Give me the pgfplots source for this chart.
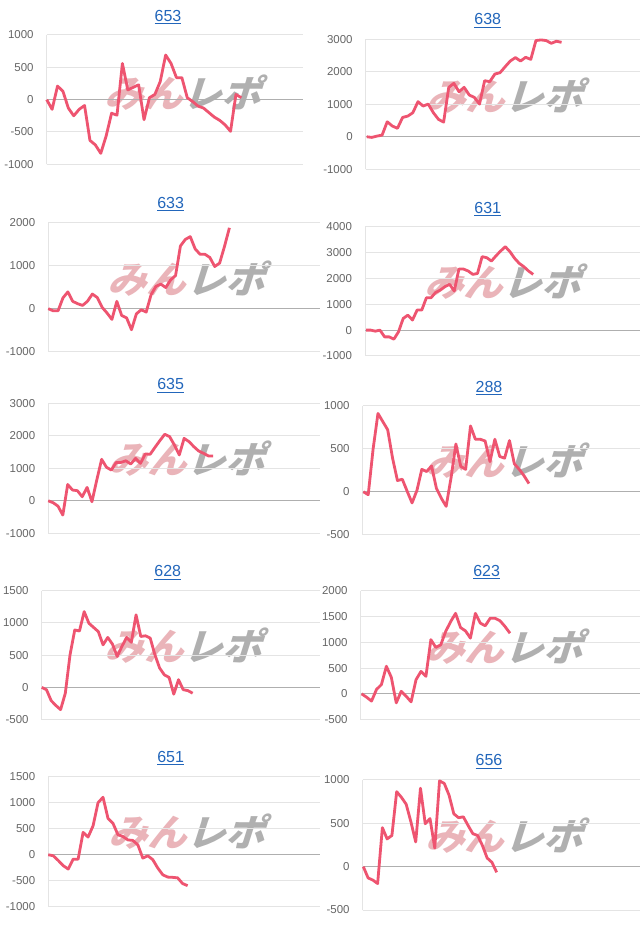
\documentclass[border=0pt]{standalone}
\usepackage{fontspec}
\setmainfont{Liberation Sans}
\newfontfamily\wmfont[FakeSlant=0.3]{Noto Sans CJK JP}
\usepackage{pgfplots}
\pgfplotsset{compat=1.18}
\definecolor{linered}{RGB}{238,84,112}
\definecolor{titleblue}{RGB}{34,102,187}
\definecolor{tickgray}{RGB}{102,102,102}
\definecolor{gridgray}{RGB}{228,228,228}
\definecolor{zerogray}{RGB}{175,175,175}
\definecolor{wmpink}{RGB}{234,180,185}
\definecolor{wmgray}{RGB}{176,176,176}
\pgfplotsset{
  panel/.style={
    scale only axis,
    anchor=south west,
    axis x line=none,
    axis y line=left,
    y axis line style={draw=gridgray,line width=0.75pt,-},
    ymajorgrids,
    grid style={draw=gridgray,line width=0.75pt},
    ytick style={draw=none},
    xtick=\empty,
    yticklabel style={font=\fontsize{8.6}{10}\selectfont,text=tickgray,inner sep=0pt,xshift=-7.5pt},
    /pgf/number format/assume math mode=true,
    /pgf/number format/1000 sep={},
    extra y ticks={0},
    extra y tick labels={},
    extra y tick style={grid style={draw=zerogray,line width=0.75pt}},
    clip=false,
  },
  pline/.style={draw=linered,line width=2.1pt,line join=round,mark=none},
}
\newcommand{\wm}[2]{\node[font=\wmfont\bfseries\fontsize{28}{30}\selectfont,inner sep=0pt,xscale=1.05] at (#1,#2) {\textcolor{wmpink}{みん}\textcolor{wmgray}{レポ}};}
\newcommand{\ttl}[3]{\node[font=\fontsize{12}{14}\selectfont,text=titleblue,inner sep=0pt] at (#1,#2) {\underline{#3}};}
\begin{document}
\begin{tikzpicture}
\path[fill=white] (0pt,0pt) rectangle (480pt,698.25pt);
% watermarks
\wm{137pt}{628.5pt}
\wm{378.5pt}{626.25pt}
\wm{139.5pt}{489pt}
\wm{377pt}{486.75pt}
\wm{140pt}{354pt}
\wm{378pt}{352.5pt}
\wm{137.5pt}{213.75pt}
\wm{378pt}{213pt}
\wm{140pt}{74.25pt}
\wm{378pt}{71.25pt}
% titles
\ttl{126pt}{685.5pt}{653}
\ttl{365.8pt}{682.7pt}{638}
\ttl{128pt}{545.25pt}{633}
\ttl{365.8pt}{541.5pt}{631}
\ttl{128pt}{409pt}{635}
\ttl{366.75pt}{407pt}{288}
\ttl{125.8pt}{268.7pt}{628}
\ttl{365pt}{269.25pt}{623}
\ttl{128pt}{129.75pt}{651}
\ttl{366.75pt}{127pt}{656}

% 653
\begin{axis}[panel, at={(35.03pt,575.0pt)}, width=192.2pt, height=97.0pt,
  xmin=0, xmax=47.4, ymin=-1000, ymax=1000, ytick={-1000,-500,0,500,1000}]
\addplot[pline] coordinates {(0,0)(1,-150)(2,210)(3,130)(4,-130)(5,-250)(6,-150)(7,-90)(8,-630)(9,-700)(10,-830)(11,-560)(12,-210)(13,-240)(14,560)(15,150)(16,190)(17,230)(18,-310)(19,30)(20,80)(21,280)(22,690)(23,560)(24,340)(25,340)(26,30)(27,-30)(28,-100)(29,-130)(30,-200)(31,-270)(32,-320)(33,-390)(34,-490)(35,80)(36,30)};
\end{axis}

% 638
\begin{axis}[panel, at={(274.3pt,571.3pt)}, width=205.7pt, height=97.5pt,
  xmin=-0.19, xmax=53.3, ymin=-1000, ymax=3000, ytick={-1000,0,1000,2000,3000}]
\addplot[pline] coordinates {(0,0)(1,-20)(2,20)(3,50)(4,460)(5,330)(6,260)(7,595)(8,635)(9,740)(10,1080)(11,945)(12,1005)(13,740)(14,535)(15,450)(16,1520)(17,1645)(18,1385)(19,1520)(20,1285)(21,1210)(22,1005)(23,1725)(24,1695)(25,1930)(26,1970)(27,2155)(28,2330)(29,2435)(30,2330)(31,2445)(32,2380)(33,2960)(34,2980)(35,2960)(36,2875)(37,2940)(38,2905)};
\end{axis}

% 633
\begin{axis}[panel, at={(36.2pt,434.5pt)}, width=203.8pt, height=96.75pt,
  xmin=0, xmax=55.5, ymin=-1000, ymax=2000, ytick={-1000,0,1000,2000}]
\addplot[pline] coordinates {(0,0)(1,-50)(2,-50)(3,250)(4,390)(5,170)(6,115)(7,75)(8,170)(9,340)(10,260)(11,30)(12,-100)(13,-250)(14,170)(15,-160)(16,-215)(17,-490)(18,-120)(19,-25)(20,-80)(21,325)(22,520)(23,570)(24,490)(25,670)(26,770)(27,1460)(28,1610)(29,1675)(30,1390)(31,1265)(32,1265)(33,1190)(34,980)(35,1060)(36,1450)(37,1880)};
\end{axis}

% 631
\begin{axis}[panel, at={(273.75pt,431.25pt)}, width=206.25pt, height=97.0pt,
  xmin=-0.22, xmax=59.0, ymin=-1000, ymax=4000, ytick={-1000,0,1000,2000,3000,4000}]
\addplot[pline] coordinates {(0,0)(1,0)(2,-40)(3,0)(4,-260)(5,-260)(6,-350)(7,-65)(8,450)(9,580)(10,390)(11,775)(12,775)(13,1250)(14,1250)(15,1460)(16,1550)(17,1680)(18,1770)(19,1510)(20,2360)(21,2360)(22,2285)(23,2155)(24,2190)(25,2840)(26,2800)(27,2670)(28,2875)(29,3060)(30,3225)(31,3030)(32,2775)(33,2580)(34,2450)(35,2285)(36,2155)};
\end{axis}

% 635
\begin{axis}[panel, at={(36.2pt,298.3pt)}, width=203.8pt, height=97.5pt,
  xmin=0, xmax=56.0, ymin=-1000, ymax=3000, ytick={-1000,0,1000,2000,3000}]
\addplot[pline] coordinates {(0,0)(1,-60)(2,-165)(3,-440)(4,500)(5,330)(6,310)(7,125)(8,410)(9,-30)(10,640)(11,1275)(12,1030)(13,945)(14,1180)(15,1180)(16,1230)(17,1130)(18,1305)(19,1150)(20,1440)(21,1430)(22,1645)(23,1850)(24,2045)(25,1975)(26,1715)(27,1410)(28,1920)(29,1820)(30,1665)(31,1530)(32,1460)(33,1380)(34,1380)};
\end{axis}

% 288
\begin{axis}[panel, at={(272.0pt,297.2pt)}, width=208.0pt, height=96.75pt,
  xmin=-0.14, xmax=56.8, ymin=-500, ymax=1000, ytick={-500,0,500,1000}]
\addplot[pline] coordinates {(0,0)(1,-35)(2,495)(3,910)(4,815)(5,720)(6,390)(7,130)(8,145)(9,5)(10,-130)(11,15)(12,260)(13,235)(14,300)(15,40)(16,-75)(17,-170)(18,160)(19,555)(20,295)(21,260)(22,765)(23,610)(24,610)(25,590)(26,350)(27,610)(28,410)(29,390)(30,595)(31,325)(32,260)(33,185)(34,95)};
\end{axis}

% 628
\begin{axis}[panel, at={(31.3pt,158.5pt)}, width=208.7pt, height=96.75pt,
  xmin=0, xmax=59.0, ymin=-500, ymax=1500, ytick={-500,0,500,1000,1500}]
\addplot[pline] coordinates {(0,0)(1,-35)(2,-205)(3,-280)(4,-345)(5,-90)(6,505)(7,890)(8,875)(9,1175)(10,995)(11,930)(12,865)(13,660)(14,775)(15,670)(16,480)(17,635)(18,775)(19,700)(20,1125)(21,790)(22,800)(23,765)(24,505)(25,300)(26,195)(27,155)(28,-105)(29,120)(30,-35)(31,-50)(32,-90)};
\end{axis}

% 623
\begin{axis}[panel, at={(270.5pt,158.5pt)}, width=209.5pt, height=96.75pt,
  xmin=-0.2, xmax=56.3, ymin=-500, ymax=2000, ytick={-500,0,500,1000,1500,2000}]
\addplot[pline] coordinates {(0,0)(1,-65)(2,-140)(3,85)(4,180)(5,535)(6,320)(7,-175)(8,50)(9,-45)(10,-155)(11,275)(12,435)(13,340)(14,1050)(15,900)(16,950)(17,1210)(18,1400)(19,1560)(20,1285)(21,1220)(22,1080)(23,1560)(24,1370)(25,1320)(26,1465)(27,1465)(28,1415)(29,1305)(30,1175)};
\end{axis}

% 651
\begin{axis}[panel, at={(36.2pt,18.2pt)}, width=203.8pt, height=97.5pt,
  xmin=0, xmax=54.6, ymin=-1000, ymax=1500, ytick={-1000,-500,0,500,1000,1500}]
\addplot[pline] coordinates {(0,0)(1,-20)(2,-110)(3,-210)(4,-275)(5,-85)(6,-85)(7,430)(8,340)(9,555)(10,1000)(11,1105)(12,700)(13,605)(14,385)(15,350)(16,285)(17,275)(18,190)(19,-65)(20,-20)(21,-95)(22,-255)(23,-385)(24,-430)(25,-435)(26,-445)(27,-555)(28,-595)};
\end{axis}

% 656
\begin{axis}[panel, at={(272.0pt,15.75pt)}, width=208.0pt, height=97.5pt,
  xmin=-0.14, xmax=58.1, ymin=-500, ymax=1000, ytick={-500,0,500,1000}]
\addplot[pline] coordinates {(0,0)(1,-130)(2,-155)(3,-195)(4,450)(5,320)(6,360)(7,865)(8,800)(9,720)(10,515)(11,285)(12,905)(13,495)(14,555)(15,215)(16,990)(17,960)(18,825)(19,610)(20,565)(21,575)(22,475)(23,380)(24,360)(25,245)(26,100)(27,50)(28,-65)};
\end{axis}
\end{tikzpicture}
\end{document}
